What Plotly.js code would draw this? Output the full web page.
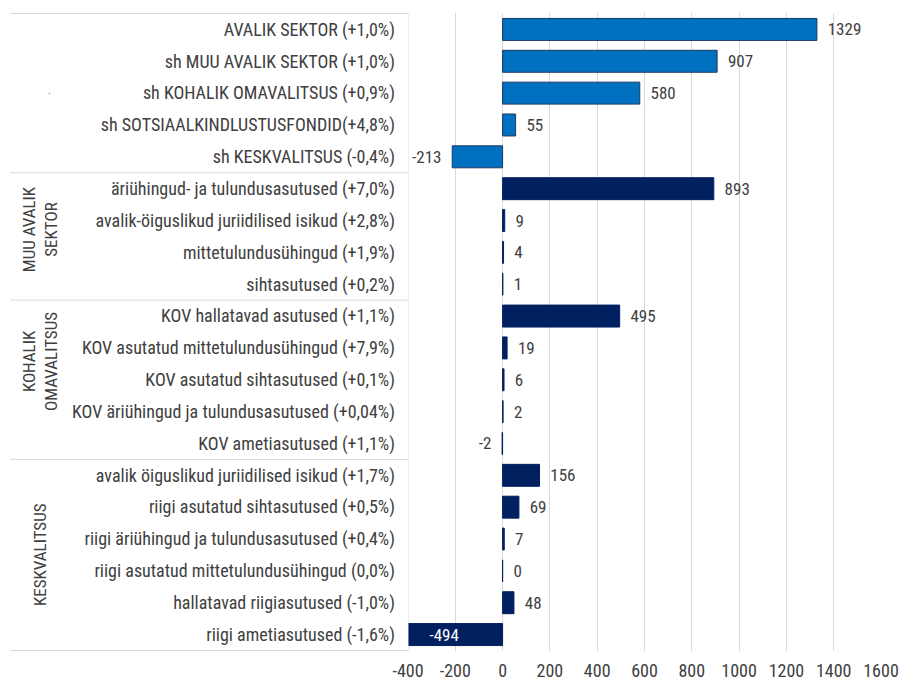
<!DOCTYPE html>
<html>
<head>
<meta charset="utf-8">
<script src="https://cdn.plot.ly/plotly-3.0.1.min.js"></script>
<style>
  html, body { margin: 0; padding: 0; background: #ffffff; }
  #chart { width: 899px; height: 680px; }
</style>
</head>
<body>
<div id="chart"></div>
<script>
const categories = [
  "AVALIK SEKTOR (+1,0%)",
  "sh MUU AVALIK SEKTOR (+1,0%)",
  "sh KOHALIK OMAVALITSUS (+0,9%)",
  "sh SOTSIAALKINDLUSTUSFONDID(+4,8%)",
  "sh KESKVALITSUS (-0,4%)",
  "äriühingud- ja tulundusasutused (+7,0%)",
  "avalik-öiguslikud juriidilised isikud (+2,8%)",
  "mittetulundusühingud (+1,9%)",
  "sihtasutused (+0,2%)",
  "KOV hallatavad asutused (+1,1%)",
  "KOV asutatud mittetulundusühingud (+7,9%)",
  "KOV asutatud sihtasutused (+0,1%)",
  "KOV äriühingud ja tulundusasutused (+0,04%)",
  "KOV ametiasutused (+1,1%)",
  "avalik öiguslikud juriidilised isikud (+1,7%)",
  "riigi asutatud sihtasutused (+0,5%)",
  "riigi äriühingud ja tulundusasutused (+0,4%)",
  "riigi asutatud mittetulundusühingud (0,0%)",
  "hallatavad riigiasutused (-1,0%)",
  "riigi ametiasutused (-1,6%)"
];
const values = [1329, 907, 580, 55, -213, 893, 9, 4, 1, 495, 19, 6, 2, -2, 156, 69, 7, 0, 48, -494];
const groups = ["total","total","total","total","total",
                "muu","muu","muu","muu",
                "kov","kov","kov","kov","kov",
                "kesk","kesk","kesk","kesk","kesk","kesk"];
const groupNames = ["muu", "kov", "kesk"];
const groupTitles = ["MUU AVALIK<br>SEKTOR", "KOHALIK<br>OMAVALITSUS", "KESKVALITSUS"];
const xTickVals = [-400, -200, 0, 200, 400, 600, 800, 1000, 1200, 1400, 1600];
const xTickText = ["-400", "-200", "0", "200", "400", "600", "800", "1000", "1200", "1400", "1600"];
const xRange = [-400, 1600];

const FONT = "'Liberation Sans Narrow', 'Arial Narrow', 'Roboto Condensed', 'DejaVu Sans Condensed', sans-serif";
const TEXT = "#404040";
const LIGHT = "#0070C0";
const LIGHT_EDGE = "#1F3864";
const DARK = "#002060";
const GRID = "#d9d9d9";

const fillColors = groups.map(g => g === "total" ? LIGHT : DARK);
const edgeColors = groups.map(g => g === "total" ? LIGHT_EDGE : DARK);
const inside = values.map(v => v < xRange[0]);
const textPos = inside.map(i => i ? "inside" : "outside");
const textTpl = values.map((v, i) => inside[i] ? "%{text}" : (v < 0 ? "%{text}\u00a0\u00a0" : "\u00a0\u00a0%{text}"));

const trace = {
  type: "bar",
  orientation: "h",
  x: values,
  y: categories,
  text: values.map(String),
  texttemplate: textTpl,
  textposition: textPos,
  insidetextanchor: "middle",
  insidetextfont: { family: FONT, size: 17, color: "#ffffff" },
  outsidetextfont: { family: FONT, size: 17, color: TEXT },
  constraintext: "none",
  textangle: 0,
  cliponaxis: true,
  marker: { color: fillColors, line: { color: edgeColors, width: 1 } },
  hoverinfo: "skip"
};

// row bookkeeping for group boxes
const rowBounds = [-0.5];
groupNames.forEach(g => {
  const first = groups.indexOf(g);
  rowBounds.push(first - 0.5);
});
rowBounds.push(categories.length - 0.5);

const shapes = rowBounds.map(y => ({
  type: "line", xref: "paper", yref: "y",
  x0: -0.841, x1: 0, y0: y, y1: y,
  line: { color: GRID, width: 1 }
}));
shapes.push({
  type: "line", xref: "x", yref: "paper",
  x0: xRange[0], x1: xRange[0], y0: 0, y1: 1,
  line: { color: GRID, width: 1 }
});

const groupY = [6.27, 10.44, 16.5];
const annotations = groupTitles.map((t, i) => ({
  text: t, xref: "paper", yref: "y",
  x: -0.778, y: groupY[i],
  textangle: -90, showarrow: false, align: "center",
  xanchor: "center", yanchor: "middle",
  font: { family: FONT, size: 17, color: TEXT }
}));
annotations.push({
  text: ".", xref: "paper", yref: "y", x: -0.765, y: 1.9,
  showarrow: false, font: { family: FONT, size: 12, color: "#888888" }
});

const layout = {
  width: 899, height: 680,
  margin: { l: 408, r: 18, t: 13, b: 29, pad: 0 },
  paper_bgcolor: "#ffffff", plot_bgcolor: "#ffffff",
  showlegend: false,
  bargap: 0.31,
  font: { family: FONT, size: 17, color: TEXT },
  xaxis: {
    range: xRange, tickvals: xTickVals, ticktext: xTickText,
    showgrid: true, gridcolor: GRID, gridwidth: 1,
    zeroline: true, zerolinecolor: GRID, zerolinewidth: 1,
    showline: false, ticks: "", ticklabelstandoff: 7,
    tickfont: { family: FONT, size: 18, color: TEXT },
    fixedrange: true
  },
  yaxis: {
    type: "category", categoryorder: "array", categoryarray: categories,
    autorange: "reversed", showgrid: false, zeroline: false, showline: false,
    ticks: "", ticklabelstandoff: 12,
    tickfont: { family: FONT, size: 18, color: TEXT },
    fixedrange: true
  },
  shapes: shapes,
  annotations: annotations
};

Plotly.newPlot("chart", [trace], layout, { displayModeBar: false, staticPlot: true });
</script>
</body>
</html>
